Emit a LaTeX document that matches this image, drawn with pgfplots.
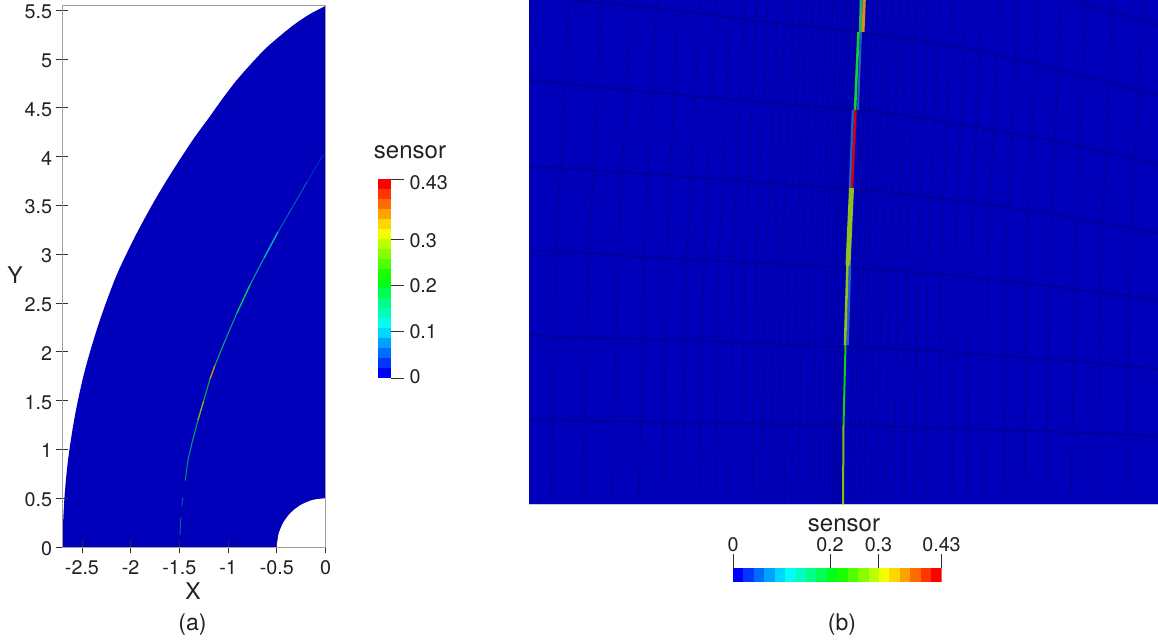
\documentclass[border=0pt]{standalone}
\usepackage{pgfplots}
\pgfplotsset{compat=1.18}
\usepackage{fontspec}
\setmainfont{TeX Gyre Heros}
\def\px{0.75pt}
\definecolor{txt}{HTML}{222222}
\definecolor{bgb}{HTML}{0000BB}
\definecolor{hl}{HTML}{00008A}
\definecolor{vl}{HTML}{000098}
\definecolor{axg}{HTML}{A0A0A0}
\definecolor{tk}{HTML}{303030}
\definecolor{b0}{HTML}{0000FF}\definecolor{b1}{HTML}{0036FF}\definecolor{b2}{HTML}{006BFF}\definecolor{b3}{HTML}{00A1FF}
\definecolor{b4}{HTML}{00D7FF}\definecolor{b5}{HTML}{00FFF1}\definecolor{b6}{HTML}{00FFBC}\definecolor{b7}{HTML}{00FF86}
\definecolor{b8}{HTML}{00FF50}\definecolor{b9}{HTML}{00FF1B}\definecolor{b10}{HTML}{1BFF00}\definecolor{b11}{HTML}{50FF00}
\definecolor{b12}{HTML}{86FF00}\definecolor{b13}{HTML}{BCFF00}\definecolor{b14}{HTML}{F1FF00}\definecolor{b15}{HTML}{FFD700}
\definecolor{b16}{HTML}{FFA100}\definecolor{b17}{HTML}{FF6B00}\definecolor{b18}{HTML}{FF3600}\definecolor{b19}{HTML}{FF0000}
% shock colours, panel (a)
\definecolor{sa}{HTML}{006E9A}\definecolor{sb}{HTML}{00A05A}\definecolor{sc}{HTML}{00B060}\definecolor{sd}{HTML}{80B020}
\definecolor{se}{HTML}{C09020}\definecolor{sf}{HTML}{009A80}\definecolor{sg}{HTML}{00C860}\definecolor{sh}{HTML}{00B0C0}
\definecolor{si}{HTML}{0060B0}\definecolor{sj}{HTML}{0030B8}
% shock colours, panel (b)
\definecolor{ra}{HTML}{20B070}\definecolor{rb}{HTML}{E08A10}\definecolor{rc}{HTML}{2060C8}\definecolor{rd}{HTML}{10D030}
\definecolor{re}{HTML}{D00010}\definecolor{rf}{HTML}{90C020}\definecolor{rg}{HTML}{10D010}\definecolor{rh}{HTML}{80C010}
\newcommand{\hband}[3]{\addplot[fill=#3,draw=none,forget plot] coordinates {(#1,0)(#2,0)(#2,1)(#1,1)} --cycle;}
\newcommand{\vband}[3]{\addplot[fill=#3,draw=none,forget plot] coordinates {(0,#1)(0,#2)(1,#2)(1,#1)} --cycle;}
\newcommand{\allbands}[1]{%
#1{0}{0.0215}{b0}#1{0.0215}{0.043}{b1}#1{0.043}{0.0645}{b2}#1{0.0645}{0.086}{b3}#1{0.086}{0.1075}{b4}%
#1{0.1075}{0.129}{b5}#1{0.129}{0.1505}{b6}#1{0.1505}{0.172}{b7}#1{0.172}{0.1935}{b8}#1{0.1935}{0.215}{b9}%
#1{0.215}{0.2365}{b10}#1{0.2365}{0.258}{b11}#1{0.258}{0.2795}{b12}#1{0.2795}{0.301}{b13}#1{0.301}{0.3225}{b14}%
#1{0.3225}{0.344}{b15}#1{0.344}{0.3655}{b16}#1{0.3655}{0.387}{b17}#1{0.387}{0.4085}{b18}#1{0.4085}{0.43}{b19}}
\newcommand{\vl}[3]{\addplot[draw=vl,line width=0.8pt,no marks,forget plot] coordinates {(#1,0)(#2,255)(#3,504)};}
\newcommand{\hlin}[1]{\addplot[draw=hl,line width=0.95pt,no marks,forget plot] coordinates {#1};}
\newcommand{\seg}[3]{\addplot[draw=#1,line width=#2*0.75pt,no marks,forget plot] coordinates {#3};}
\newcommand{\lbl}[2]{\raisebox{#1}[10.4pt][0pt]{#2}}
\begin{document}
\begin{tikzpicture}
\fontsize{14.8}{17}\selectfont
\useasboundingbox (0,0) rectangle (1158*\px,-642*\px);
% ---- panel (a)
\begin{axis}[at={(62*\px,-547*\px)},anchor=south west,scale only axis,
  width=263.5*\px,height=541*\px,xmin=-2.705,xmax=0,ymin=0,ymax=5.543,
  axis on top,
  axis line style={draw=axg,line width=0.75pt},
  tick align=center,major tick length=9.5pt,
  tick style={draw=tk,line width=0.6pt},
  xtick pos=left,ytick pos=left,
  xtick={-2.5,-2,-1.5,-1,-0.5,0},xticklabels={-2.5,-2,-1.5,-1,-0.5,0},
  ytick={0,0.5,1,1.5,2,2.5,3,3.5,4,4.5,5,5.5},
  yticklabels={0,0.5,1,1.5,2,2.5,3,3.5,4,4.5,5,5.5},
  ticklabel style={font=\fontsize{14.8}{17}\selectfont,text=txt},
  yticklabel style={xshift=2.5pt,yshift=-1.2pt},
  clip=true]
\addplot[smooth,fill=bgb,draw=none,forget plot] coordinates {
 (-2.705,0)(-2.68,0.503)(-2.639,0.923)(-2.567,1.374)(-2.469,1.815)(-2.325,2.297)(-2.151,2.769)
 (-1.956,3.179)(-1.761,3.538)(-1.581,3.836)(-1.36,4.174)(-1.206,4.385)(-1.063,4.585)(-0.919,4.774)(-0.775,4.938)
 (-0.621,5.102)(-0.467,5.236)(-0.313,5.359)(-0.159,5.461)(0,5.543)} \closedcycle;
\addplot[smooth,fill=white,draw=none,forget plot] coordinates {
 (-0.5,0)(-0.483,0.129)(-0.433,0.25)(-0.354,0.354)(-0.25,0.433)(-0.129,0.483)(0,0.5)} \closedcycle;
% shock
\seg{sa}{0.9}{(-1.494,0.12)(-1.485,0.3)}
\seg{sa}{0.9}{(-1.475,0.42)(-1.466,0.50)}
\seg{sb}{0.9}{(-1.44,0.68)(-1.412,0.891)}
\seg{sf}{1}{(-1.412,0.891)(-1.363,1.096)}
\seg{sc}{1}{(-1.363,1.096)(-1.309,1.301)}
\seg{sd}{1.4}{(-1.309,1.301)(-1.25,1.5)}
\seg{sb}{1.2}{(-1.25,1.5)(-1.186,1.72)}
\seg{se}{1.4}{(-1.186,1.72)(-1.135,1.86)}
\seg{sc}{1.1}{(-1.135,1.86)(-1.032,2.111)}
\seg{sf}{1.1}{(-1.032,2.111)(-0.909,2.398)}
\seg{sg}{1.4}{(-0.909,2.398)(-0.775,2.684)}
\seg{sf}{1.1}{(-0.775,2.684)(-0.631,2.961)}
\seg{sh}{1.4}{(-0.631,2.961)(-0.488,3.227)}
\seg{si}{1.1}{(-0.488,3.227)(-0.344,3.473)}
\seg{si}{1}{(-0.344,3.473)(-0.190,3.740)}
\seg{sj}{1}{(-0.190,3.740)(-0.026,4.016)}
\addplot[draw=axg,line width=1.3pt,no marks,forget plot] coordinates {(-2.705,0)(-2.705,5.543)};
\end{axis}
% ---- vertical colour bar
\begin{axis}[at={(378*\px,-378*\px)},anchor=south west,scale only axis,
  width=13*\px,height=199*\px,xmin=0,xmax=1,ymin=0,ymax=0.43,
  axis y line*=right,axis x line=none,
  axis line style={draw=none,-},
  ytick={0,0.1,0.2,0.3,0.43},
  yticklabels={\lbl{1pt}{0},\lbl{0pt}{0.1},\lbl{-0.4pt}{0.2},\lbl{-1pt}{0.3},\lbl{-3pt}{0.43}},
  tick align=outside,major tick length=9.75pt,tick style={draw=tk,line width=0.6pt},
  yticklabel style={font=\fontsize{14.8}{17}\selectfont,text=txt,xshift=-1pt}]
\allbands{\vband}
\end{axis}
% ---- panel (b)
\begin{axis}[at={(529*\px,-504*\px)},anchor=south west,scale only axis,
  width=629*\px,height=504*\px,xmin=529,xmax=1158,ymin=0,ymax=504,y dir=reverse,
  axis x line=none,axis y line=none,clip=true]
\addplot[fill=bgb,draw=none,forget plot] coordinates {(529,0)(1158,0)(1158,504)(529,504)} --cycle;
\addplot[draw=vl,line width=0.8pt,no marks,forget plot] coordinates {(530,0)(529.5,44)};
\vl{569}{556}{551}\vl{602}{589}{582}\vl{631}{618}{612}\vl{657}{644}{639}\vl{678}{667}{662}\vl{700}{687}{682}
\vl{716}{704}{699}\vl{731}{719}{715}\vl{745}{733}{729}\vl{757}{745}{741}\vl{768}{756}{752}\vl{778}{766}{761}
\vl{786}{774}{770}\vl{794}{782}{777}\vl{801}{789}{784}\vl{807}{797}{791}
\vl{813}{803}{798}\vl{820}{810}{806}\vl{827}{816}{813}\vl{833}{822}{819}\vl{838}{827}{824}\vl{843}{832}{829}
\vl{847}{836}{832}\vl{851}{840}{835}\vl{855}{843}{838}\vl{858}{846}{840}\vl{860}{847}{841}
\vl{864}{855}{850}\vl{868}{859}{854}\vl{873}{864}{859}\vl{878}{869}{864}\vl{885}{875}{870}\vl{892}{882}{877}
\vl{900}{890}{885}\vl{908}{898}{894}\vl{917}{907}{904}\vl{928}{918}{914}\vl{940}{928}{925}\vl{952}{941}{938}
\vl{966}{955}{952}\vl{982}{971}{967}\vl{999}{988}{985}\vl{1018}{1006}{1004}\vl{1038}{1026}{1024}\vl{1061}{1050}{1046}
\vl{1086}{1075}{1071}\vl{1113}{1101}{1098}\vl{1143}{1130}{1126}
\hlin{(1075,0)(1113,12)(1158,25)}
\hlin{(569,0)(656,8)(697,13)(756,21)(809,26)(878,35)(926,41)(978,50)(1015,59)(1058,69)(1108,82)(1158,95)}
\hlin{(529,80)(596,87)(651,92)(692,96)(751,101)(809,106)(878,112)(901,115)(960,124)(1011,133)(1055,141)(1105,152)(1158,164)}
\hlin{(529,166)(592,170)(647,174)(689,177)(759,182)(809,186)(878,191)(930,197)(971,202)(1028,210)(1076,218)(1131,228)(1158,233)}
\hlin{(529,250)(589,253)(644,257)(719,261)(756,263)(809,265)(878,270)(941,274)(1005,281)(1048,286)(1098,292)(1130,296)(1158,301)}
\hlin{(529,335)(587,338)(641,339)(701,341)(762,343)(809,346)(878,348)(951,352)(1005,356)(1071,361)(1126,366)(1158,369)}
\hlin{(529,420)(586,421)(662,422)(716,423)(769,424)(809,425)(878,426)(951,428)(1023,431)(1098,433)(1158,436)}
% shock elements
\seg{ra}{3}{(861.2,0)(860.3,32)}
\seg{rb}{3}{(864.3,0)(863,32)}
\seg{rc}{2}{(861,32)(858,110)}
\seg{rd}{2.6}{(858.5,32)(855,110)}
\seg{rc}{2.5}{(853,110)(850,188)}
\seg{re}{2.5}{(855.5,110)(852,188)}
\seg{rf}{5}{(851.5,188)(848,265)}
\seg{rc}{2.5}{(850,265)(847.5,345)}
\seg{rf}{2.6}{(847.5,265)(845,345)}
\seg{rg}{2}{(845.5,345)(843.5,425)}
\seg{rh}{2}{(843.5,425)(843,504)}
\addplot[draw=gray!40,line width=0.75pt,no marks,forget plot] coordinates {(529,504)(1158,504)};
\end{axis}
% ---- horizontal colour bar
\begin{axis}[at={(733*\px,-582*\px)},anchor=south west,scale only axis,
  width=208.5*\px,height=14*\px,xmin=0,xmax=0.43,ymin=0,ymax=1,
  axis x line*=top,axis y line=none,
  axis line style={draw=none,-},
  xtick={0,0.2,0.3,0.43},xticklabels={0,0.2,0.3,0.43},
  tick align=outside,major tick length=10.5pt,tick style={draw=tk,line width=0.6pt},
  xticklabel style={font=\fontsize{14.8}{17}\selectfont,text=txt,yshift=-3.6pt}]
\allbands{\hband}
\end{axis}
% ---- text
\node[anchor=base,text=txt,font=\fontsize{18}{20}\selectfont] at (410*\px,-158*\px) {sensor};
\node[anchor=base,text=txt,font=\fontsize{18}{20}\selectfont] at (844*\px,-531*\px) {sensor};
\node[anchor=base,text=txt,font=\fontsize{17.25}{20}\selectfont] at (193*\px,-599*\px) {X};
\node[anchor=base,text=txt,font=\fontsize{17.25}{20}\selectfont] at (15*\px,-283*\px) {Y};
\node[anchor=base,text=txt,font=\fontsize{17.25}{20}\selectfont] at (192.5*\px,-630*\px) {(a)};
\node[anchor=base,text=txt,font=\fontsize{17.25}{20}\selectfont] at (842*\px,-630*\px) {(b)};
\end{tikzpicture}
\end{document}
